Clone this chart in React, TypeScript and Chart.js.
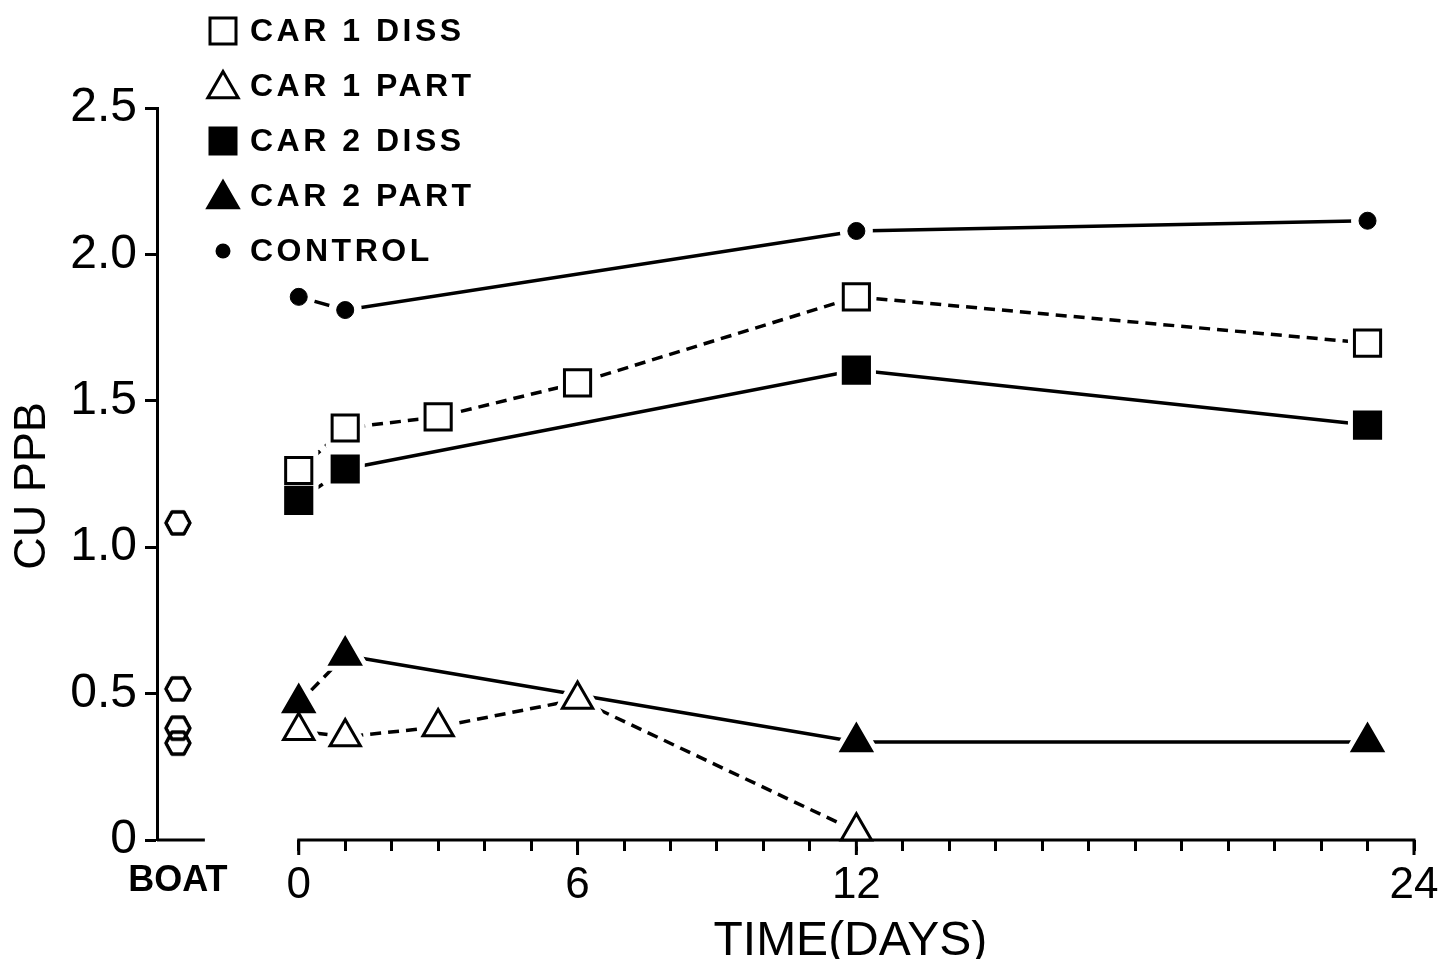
import React, { useEffect, useRef } from 'react';
import { Chart, registerables } from 'chart.js';

Chart.register(...registerables);

// ---------- data ----------
const BOAT_X = -2.6;
const X_MIN = -3.05;
const X_MAX = 24;

const BOAT_VALUES = [1.083, 0.516, 0.382, 0.331];

const CAR1_DISS_DAYS = [0, 1, 3, 6, 12, 23];
const CAR1_DISS = [1.262, 1.407, 1.445, 1.561, 1.855, 1.697];

const CAR1_PART_DAYS = [0, 1, 3, 6, 12];
const CAR1_PART = [0.373, 0.352, 0.386, 0.48, 0.03];

const CAR2_DISS_DAYS = [0, 1, 12, 23];
const CAR2_DISS = [1.16, 1.267, 1.605, 1.417];

const CAR2_PART_DAYS = [0, 1, 12, 23];
const CAR2_PART = [0.468, 0.63, 0.335, 0.335];

const CONTROL_DAYS = [0, 1, 12, 23];
const CONTROL = [1.855, 1.81, 2.08, 2.115];

const X_TICK_DAYS = [0, 1, 2, 3, 4, 5, 6, 7, 8, 9, 10, 11, 12, 13, 14, 15, 16, 17, 18, 19, 20, 21, 22, 23, 24];
const X_LABEL_DAYS = [0, 6, 12, 24];
const BOAT_LABEL = 'BOAT';
const Y_TICKS = [0, 0.5, 1, 1.5, 2, 2.5];
const Y_TICK_LABELS = ['0', '0.5', '1.0', '1.5', '2.0', '2.5'];
const LEGEND_LABELS = ['CAR 1 DISS', 'CAR 1 PART', 'CAR 2 DISS', 'CAR 2 PART', 'CONTROL'];
const X_TITLE = 'TIME(DAYS)';
const Y_TITLE = 'CU PPB';

const FONT = '"Liberation Sans", Arial, Helvetica, sans-serif';
const DASH = [11, 7];

const toPoints = (xs: number[], ys: number[]) => xs.map((x, i) => ({ x, y: ys[i] }));

function makeHexagon(): HTMLCanvasElement {
  const c = document.createElement('canvas');
  c.width = 32;
  c.height = 30;
  const g = c.getContext('2d')!;
  g.lineWidth = 3;
  g.strokeStyle = '#000';
  g.lineJoin = 'round';
  const cx = 16, cy = 15, rx = 12, ry = 12.7;
  g.beginPath();
  for (let k = 0; k < 6; k++) {
    const a = (k * Math.PI) / 3;
    const px = cx + rx * Math.cos(a);
    const py = cy + ry * Math.sin(a);
    if (k === 0) g.moveTo(px, py);
    else g.lineTo(px, py);
  }
  g.closePath();
  g.stroke();
  return c;
}

function drawAxes(chart: any) {
  const { ctx, scales } = chart;
  const xs = scales.x;
  const y0 = scales.y.getPixelForValue(0);
  ctx.save();
  ctx.strokeStyle = '#000';
  ctx.lineWidth = 3;
  ctx.lineCap = 'butt';
  ctx.beginPath();
  ctx.moveTo(xs.getPixelForValue(X_MIN), y0);
  ctx.lineTo(xs.getPixelForValue(-2.02), y0);
  ctx.stroke();
  ctx.beginPath();
  ctx.moveTo(xs.getPixelForValue(0) - 1.5, y0);
  ctx.lineTo(xs.getPixelForValue(24) + 1.5, y0);
  ctx.stroke();
  X_LABEL_DAYS.forEach((d) => {
    const px = xs.getPixelForValue(d);
    ctx.beginPath();
    ctx.moveTo(px, y0);
    ctx.lineTo(px, y0 + 15);
    ctx.stroke();
  });
  ctx.restore();
}

const customPlugin = {
  id: 'customDecor',
  afterDatasetsDraw(chart: any) {
    const ctx = chart.ctx;
    const metas = chart.getSortedVisibleDatasetMetas();
    // white halos around markers (gaps where lines meet markers)
    ctx.save();
    metas.forEach((meta: any) => {
      if (meta.dataset === undefined || !meta.controller.getDataset().showLine) return;
      meta.data.forEach((el: any) => {
        const o = el.options;
        const extra = o.pointStyle === 'circle' ? 15 : 10;
        el.options = { ...o, borderColor: '#fff', backgroundColor: '#fff', borderWidth: (o.borderWidth || 0) + extra };
        el.draw(ctx);
        el.options = o;
      });
    });
    ctx.restore();
    drawAxes(chart);
    // redraw markers on top (highest order first)
    for (let i = metas.length - 1; i >= 0; i--) {
      metas[i].data.forEach((el: any) => el.draw(ctx));
    }
  },
  afterDraw(chart: any) {
    const { ctx, scales } = chart;
    const xs = scales.x;
    ctx.save();
    ctx.fillStyle = '#000';
    // x title
    ctx.font = `48px ${FONT}`;
    ctx.textAlign = 'center';
    ctx.textBaseline = 'alphabetic';
    const cx = (xs.getPixelForValue(0) + xs.getPixelForValue(24)) / 2 - 6;
    ctx.fillText(X_TITLE, cx, 955);

    // y title
    ctx.save();
    ctx.translate(45, 486);
    ctx.rotate(-Math.PI / 2);
    ctx.font = `45px ${FONT}`;
    ctx.textAlign = 'center';
    ctx.textBaseline = 'alphabetic';
    ctx.fillText(Y_TITLE, 0, 0);
    ctx.restore();

    // legend
    const items = chart.data.datasets.filter((d: any) => LEGEND_LABELS.includes(d.label));
    items.forEach((ds: any, i: number) => {
      const yc = 31 + i * 55;
      const xc = 223;
      ctx.lineWidth = 3;
      ctx.strokeStyle = '#000';
      ctx.fillStyle = ds.pointBackgroundColor;
      ctx.beginPath();
      if (ds.pointStyle === 'rect') {
        ctx.rect(xc - 13, yc - 13, 26, 26);
      } else if (ds.pointStyle === 'triangle') {
        const r = 17.5;
        for (let k = 0; k < 3; k++) {
          const a = (k * 2 * Math.PI) / 3;
          const px = xc + Math.sin(a) * r;
          const py = yc + 3 - Math.cos(a) * r;
          if (k === 0) ctx.moveTo(px, py);
          else ctx.lineTo(px, py);
        }
        ctx.closePath();
      } else {
        ctx.arc(xc, yc, 7.5, 0, Math.PI * 2);
      }
      ctx.fill();
      if (ds.pointStyle !== 'circle') ctx.stroke();
      ctx.fillStyle = '#000';
      ctx.font = `bold 32px ${FONT}`;
      (ctx as any).letterSpacing = '3.5px';
      ctx.textAlign = 'left';
      ctx.textBaseline = 'middle';
      ctx.fillText(ds.label, 250, yc + 1);
      (ctx as any).letterSpacing = '0px';
    });
    ctx.restore();
  },
};

export default function App() {
  const ref = useRef<HTMLCanvasElement>(null);

  useEffect(() => {
    if (!ref.current) return;
    const hex = makeHexagon();
    const lineBase = {
      borderColor: '#000',
      borderWidth: 3.5,
      pointBorderColor: '#000',
      pointBorderWidth: 3,
      fill: false,
      tension: 0,
      showLine: true,
    };
    const dashFirst = { borderDash: (c: any) => (c.p0DataIndex === 0 ? DASH : undefined) };

    const chart = new Chart(ref.current, {
      type: 'scatter',
      data: {
        datasets: [
          {
            ...lineBase,
            label: LEGEND_LABELS[0],
            data: toPoints(CAR1_DISS_DAYS, CAR1_DISS),
            borderDash: DASH,
            pointStyle: 'rect',
            pointRadius: 18.5,
            pointBackgroundColor: '#fff',
            order: 4,
          },
          {
            ...lineBase,
            label: LEGEND_LABELS[1],
            data: toPoints(CAR1_PART_DAYS, CAR1_PART),
            borderDash: DASH,
            pointStyle: 'triangle',
            pointRadius: 17.5,
            pointBackgroundColor: '#fff',
            order: 5,
          },
          {
            ...lineBase,
            label: LEGEND_LABELS[2],
            data: toPoints(CAR2_DISS_DAYS, CAR2_DISS),
            segment: dashFirst,
            pointStyle: 'rect',
            pointRadius: 18.5,
            pointBackgroundColor: '#000',
            order: 2,
          },
          {
            ...lineBase,
            label: LEGEND_LABELS[3],
            data: toPoints(CAR2_PART_DAYS, CAR2_PART),
            segment: dashFirst,
            pointStyle: 'triangle',
            pointRadius: 17.5,
            pointBackgroundColor: '#000',
            order: 3,
          },
          {
            ...lineBase,
            label: LEGEND_LABELS[4],
            data: toPoints(CONTROL_DAYS, CONTROL),
            pointStyle: 'circle',
            pointRadius: 8.5,
            pointBorderWidth: 1,
            pointBackgroundColor: '#000',
            order: 1,
          },
          {
            label: BOAT_LABEL,
            data: BOAT_VALUES.map((y) => ({ x: BOAT_X, y })),
            showLine: false,
            pointStyle: hex,
            pointRadius: 13,
            order: 6,
          },
        ] as any,
      },
      options: {
        responsive: false,
        animation: false,
        devicePixelRatio: 1,
        events: [],
        layout: { padding: { top: 108, right: 33, bottom: 0, left: 0 } },
        plugins: {
          legend: { display: false },
          tooltip: { enabled: false },
        },
        scales: {
          x: {
            type: 'linear',
            min: X_MIN,
            max: X_MAX,
            afterBuildTicks: (s: any) => {
              s.ticks = [BOAT_X, ...X_TICK_DAYS].map((v) => ({ value: v }));
            },
            afterFit: (s: any) => {
              s.height = 119;
            },
            border: { display: false },
            grid: {
              display: true,
              drawOnChartArea: false,
              drawTicks: true,
              tickLength: 11,
              tickWidth: 3,
              tickColor: (c: any) => (c.tick && c.tick.value === BOAT_X ? 'rgba(0,0,0,0)' : '#000'),
            },
            ticks: {
              autoSkip: false,
              maxRotation: 0,
              minRotation: 0,
              padding: 8,
              color: '#000',
              font: (c: any) =>
                c.tick && c.tick.value === BOAT_X
                  ? { family: FONT, size: 36, weight: 'bold' }
                  : { family: FONT, size: 44, weight: 'normal' },
              callback: (v: any) => {
                if (v === BOAT_X) return BOAT_LABEL;
                return X_LABEL_DAYS.includes(v) ? String(v) : '';
              },
            },
          },
          y: {
            type: 'linear',
            min: 0,
            max: 2.5,
            afterBuildTicks: (s: any) => {
              s.ticks = Y_TICKS.map((v) => ({ value: v }));
            },
            afterFit: (s: any) => {
              s.width = 157;
            },
            border: { display: true, color: '#000', width: 3 },
            grid: {
              display: true,
              drawOnChartArea: false,
              drawTicks: true,
              tickLength: 12,
              tickWidth: 3,
              tickColor: '#000',
            },
            ticks: {
              padding: 8,
              color: '#000',
              font: { family: FONT, size: 48 },
              callback: (v: any) => Y_TICK_LABELS[Y_TICKS.indexOf(v)],
            },
            title: { display: false },
          },
        },
      },
      plugins: [customPlugin],
    });
    return () => chart.destroy();
  }, []);

  return (
    <div style={{ position: 'absolute', left: 0, top: 0, width: 1447, height: 959, background: '#fff' }}>
      <canvas ref={ref} width={1447} height={959} style={{ display: 'block', width: 1447, height: 959 }} />
    </div>
  );
}
